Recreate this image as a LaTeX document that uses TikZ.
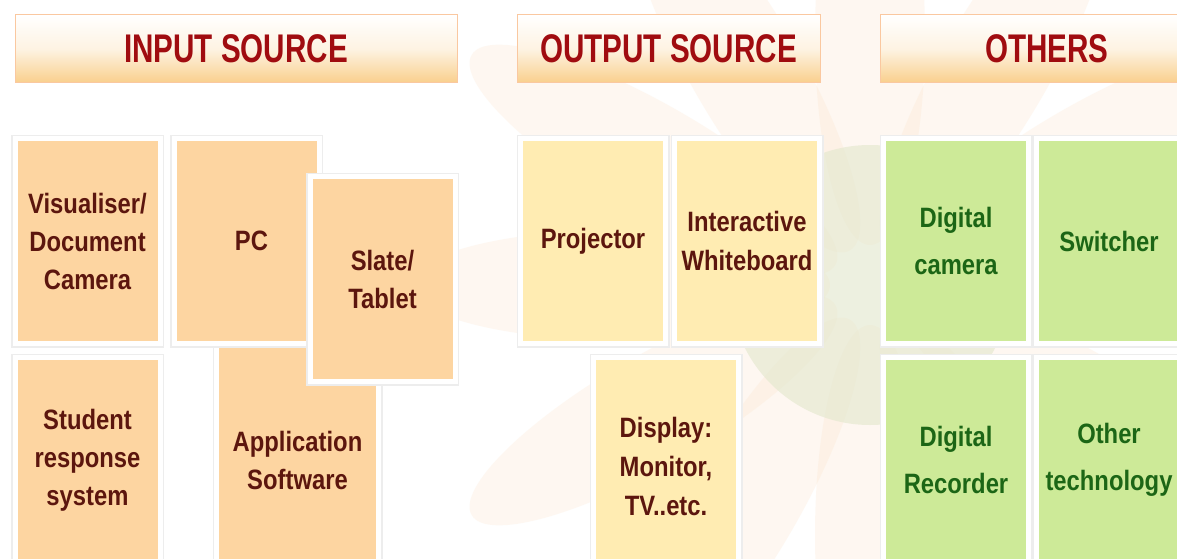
\documentclass[tikz,border=0pt]{standalone}
\usepackage{fontspec}
\setmainfont{Liberation Sans}
\newfontfamily\headfont[FakeStretch=0.74]{Liberation Sans}
\newfontfamily\cardfont[FakeStretch=0.85]{Liberation Sans}
\usepackage{tikz}
\definecolor{peach}{RGB}{253,213,161}
\definecolor{cream}{RGB}{255,236,178}
\definecolor{leaf}{RGB}{205,234,152}
\definecolor{brownink}{RGB}{92,22,14}
\definecolor{greenink}{RGB}{28,102,22}
\definecolor{redink}{RGB}{160,12,16}
\definecolor{headline}{RGB}{250,200,160}
\definecolor{headfill}{RGB}{249,207,140}
\definecolor{petal}{RGB}{252,222,192}
\definecolor{disc}{RGB}{226,231,204}

\begin{document}
\begin{tikzpicture}[x=1pt,y=-1pt,
  header/.style={draw=headline, line width=1pt, top color=white, bottom color=headfill, middle color=white!75!headfill, minimum height=68pt, inner sep=0pt, font=\headfont\bfseries\fontsize{40}{40}\selectfont, text=redink},
  card/.style={draw=white, line width=5pt, preaction={draw=black!7, line width=8pt}, minimum width=145pt, minimum height=205pt, inner sep=0pt, align=center},
  inbox/.style={card, fill=peach, text=brownink, font=\cardfont\bfseries\fontsize{28}{38}\selectfont},
  outbox/.style={card, fill=cream, text=brownink, font=\cardfont\bfseries\fontsize{28}{39}\selectfont},
  othbox/.style={card, fill=leaf, text=greenink, font=\cardfont\bfseries\fontsize{28}{47}\selectfont}]
\useasboundingbox (0,0) rectangle (1177,559);
\fill[white] (0,0) rectangle (1177,559);

% flower in the background
\foreach \a in {0,30,...,330}
  \fill[petal, opacity=0.22, rotate around={\a:(870,285)}] (1120,285) ellipse [x radius=210pt, y radius=55pt];
\fill[disc, opacity=0.6] (870,285) circle (140pt);

% headers
\node[header, minimum width=442pt] (hin) at (236,49) {INPUT SOURCE};
\node[header, minimum width=303pt] (hout) at (668.5,49) {OUTPUT SOURCE};
\node[header, minimum width=334pt] (hoth) at (1047,49) {OTHERS};

% input source
\node[inbox, minimum width=162pt, minimum height=236pt] (app) at (297.5,460) {Application\\Software};
\node[inbox] (visual) at (87.5,241) {Visualiser/\\Document\\Camera};
\node[inbox] (student) at (87.5,460) {Student\\response\\system};
\node[inbox] (pc) at (246.5,241) {\hspace*{10pt}PC};
\node[inbox] (slate) at (382.5,279) {Slate/\\Tablet};

% output source
\node[outbox] (proj) at (593,241) {Projector};
\node[outbox] (iwb) at (747,241) {Interactive\\Whiteboard};
\node[outbox, minimum height=217pt] (display) at (666,466) {Display:\\Monitor,\\TV..etc.};

% others
\node[othbox] (dcam) at (956,241) {Digital\\camera};
\node[othbox] (switch) at (1109,241) {Switcher};
\node[othbox] (drec) at (956,460) {Digital\\Recorder};
\node[othbox] (other) at (1109,460) {Other\\technology};
\end{tikzpicture}
\end{document}
